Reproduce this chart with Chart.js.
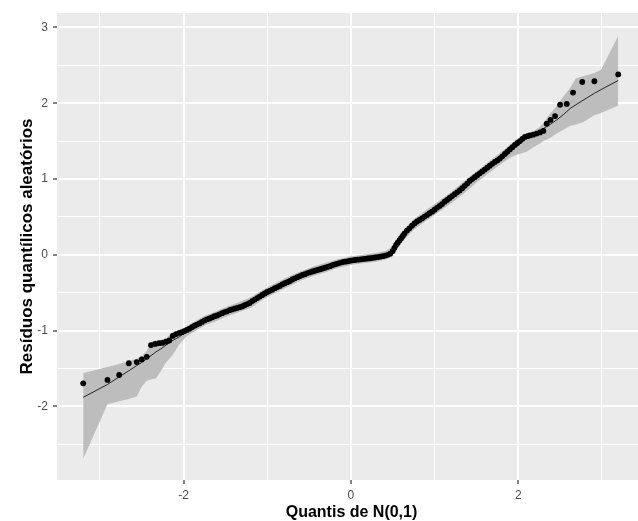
<!DOCTYPE html>
<html>
<head>
<meta charset="utf-8">
<script src="https://cdn.jsdelivr.net/npm/chart.js@4.4.0/dist/chart.umd.min.js"></script>
<style>
  html, body { margin: 0; background: #ffffff; overflow: hidden; }
  #wrap { width: 638px; height: 521px; overflow: hidden; }
</style>
</head>
<body>
<div id="wrap"><canvas id="qqChart" width="650" height="521"></canvas></div>
<script>
// theoretical N(0,1) quantiles and the randomized quantile residuals
const theoQuantiles = [
  -3.20, -2.91, -2.77, -2.655, -2.56, -2.50, -2.44, -2.39,
  -2.34, -2.29, -2.25, -2.21, -2.17, -2.13, -2.09, -2.05, -2.02, -1.99,
  -1.96, -1.93, -1.90, -1.87, -1.84, -1.81, -1.78, -1.75, -1.72, -1.69,
  -1.66, -1.63, -1.60, -1.57, -1.54, -1.51, -1.48, -1.45, -1.42, -1.39,
  -1.36, -1.33, -1.30, -1.27, -1.24, -1.21, -1.18, -1.15, -1.12, -1.09,
  -1.06, -1.03, -1.00, -0.97, -0.94, -0.91, -0.88, -0.85, -0.82, -0.79,
  -0.76, -0.73, -0.70, -0.67, -0.64, -0.61, -0.58, -0.55, -0.52, -0.49,
  -0.46, -0.43, -0.40, -0.37, -0.34, -0.31, -0.28, -0.25, -0.22, -0.19,
  -0.16, -0.13, -0.10, -0.07, -0.04, -0.01, 0.02, 0.05, 0.08, 0.11,
  0.14, 0.17, 0.20, 0.23, 0.26, 0.29, 0.32, 0.35, 0.38, 0.41,
  0.44, 0.47, 0.50, 0.52, 0.54, 0.56, 0.58, 0.60, 0.62, 0.64,
  0.67, 0.70, 0.73, 0.76, 0.79, 0.82, 0.85, 0.88, 0.91, 0.94,
  0.97, 1.00, 1.03, 1.06, 1.09, 1.12, 1.15, 1.18, 1.21, 1.24,
  1.27, 1.30, 1.33, 1.36, 1.39, 1.42, 1.45, 1.48, 1.51, 1.54,
  1.57, 1.60, 1.63, 1.66, 1.69, 1.72, 1.75, 1.78, 1.81, 1.84,
  1.87, 1.90, 1.93, 1.96, 1.99, 2.02, 2.05, 2.08, 2.11, 2.14,
  2.18, 2.22, 2.26, 2.30,
  2.34, 2.385, 2.44, 2.50, 2.58, 2.655, 2.765, 2.91, 3.195
];
const residuals = [
  -1.695, -1.65, -1.585, -1.43, -1.415, -1.38, -1.345, -1.19,
  -1.175, -1.165, -1.16, -1.145, -1.13, -1.07, -1.045, -1.03, -1.02, -1.005,
  -0.99, -0.975, -0.955, -0.935, -0.92, -0.905, -0.885, -0.865, -0.85, -0.84,
  -0.825, -0.81, -0.80, -0.785, -0.77, -0.755, -0.745, -0.73, -0.72, -0.71,
  -0.70, -0.69, -0.68, -0.665, -0.65, -0.635, -0.61, -0.59, -0.57, -0.55,
  -0.53, -0.51, -0.49, -0.475, -0.46, -0.44, -0.425, -0.41, -0.39, -0.375,
  -0.36, -0.345, -0.325, -0.31, -0.295, -0.28, -0.265, -0.255, -0.24, -0.23,
  -0.22, -0.21, -0.20, -0.19, -0.18, -0.17, -0.16, -0.15, -0.135, -0.125,
  -0.115, -0.105, -0.095, -0.09, -0.085, -0.078, -0.072, -0.068, -0.064, -0.06,
  -0.056, -0.052, -0.048, -0.045, -0.04, -0.035, -0.03, -0.024, -0.018, -0.01,
  0.0, 0.015, 0.05, 0.09, 0.13, 0.16, 0.19, 0.22, 0.25, 0.28,
  0.32, 0.35, 0.385, 0.415, 0.44, 0.46, 0.48, 0.505, 0.525, 0.55,
  0.57, 0.595, 0.62, 0.645, 0.67, 0.70, 0.725, 0.75, 0.775, 0.80,
  0.825, 0.85, 0.88, 0.91, 0.94, 0.975, 1.0, 1.025, 1.05, 1.075,
  1.10, 1.125, 1.15, 1.175, 1.20, 1.225, 1.245, 1.27, 1.30, 1.33,
  1.36, 1.39, 1.42, 1.45, 1.475, 1.50, 1.53, 1.555, 1.565, 1.575,
  1.585, 1.60, 1.615, 1.635,
  1.73, 1.78, 1.83, 1.98, 1.99, 2.14, 2.28, 2.29, 2.38
];

// simulated envelope: lower limit, median and upper limit
const envX = [
  -3.20, -2.91, -2.77, -2.655, -2.56, -2.50, -2.44, -2.39, -2.33, -2.27,
  -2.21, -2.13, -2.05, -1.97, -1.855, -1.74, -1.62, -1.50, -1.35, -1.20,
  -1.05, -0.90, -0.75, -0.60, -0.45, -0.30, -0.15, 0.00, 0.15, 0.30,
  0.42, 0.48, 0.54, 0.62, 0.75, 0.90, 1.05, 1.20, 1.35, 1.50,
  1.65, 1.80, 1.90, 1.98, 2.10, 2.18, 2.26, 2.30, 2.38, 2.46,
  2.54, 2.62, 2.69, 2.775, 2.91, 2.99, 3.195
];
const envLower = [
  -2.69, -1.97, -1.93, -1.90, -1.87, -1.74, -1.66, -1.645, -1.63, -1.53,
  -1.42, -1.32, -1.18, -1.08, -1.00, -0.93, -0.88, -0.82, -0.76, -0.70,
  -0.59, -0.50, -0.42, -0.34, -0.28, -0.23, -0.17, -0.135, -0.11, -0.09,
  -0.06, -0.03, 0.07, 0.18, 0.33, 0.45, 0.565, 0.68, 0.81, 0.95,
  1.08, 1.20, 1.28, 1.32, 1.36, 1.42, 1.47, 1.50, 1.54, 1.60,
  1.65, 1.70, 1.72, 1.75, 1.84, 1.87, 1.97
];
const envMedian = [
  -1.88, -1.71, -1.61, -1.53, -1.46, -1.42, -1.37, -1.33, -1.28, -1.24,
  -1.19, -1.13, -1.08, -1.02, -0.94, -0.87, -0.81, -0.752, -0.697, -0.627,
  -0.523, -0.435, -0.355, -0.275, -0.217, -0.167, -0.112, -0.076, -0.055, -0.033,
  -0.007, 0.025, 0.13, 0.25, 0.405, 0.518, 0.637, 0.767, 0.90, 1.04,
  1.167, 1.29, 1.39, 1.467, 1.56, 1.60, 1.64, 1.665, 1.72, 1.78,
  1.85, 1.93, 1.98, 2.04, 2.13, 2.18, 2.30
];
const envUpper = [
  -1.56, -1.48, -1.44, -1.40, -1.37, -1.33, -1.27, -1.15, -1.13, -1.12,
  -1.10, -1.02, -0.99, -0.95, -0.87, -0.80, -0.75, -0.69, -0.63, -0.56,
  -0.46, -0.37, -0.29, -0.215, -0.155, -0.105, -0.055, -0.02, 0.0, 0.025,
  0.055, 0.10, 0.20, 0.32, 0.47, 0.59, 0.71, 0.83, 0.97, 1.10,
  1.23, 1.36, 1.45, 1.52, 1.60, 1.63, 1.69, 1.74, 1.86, 1.96,
  2.09, 2.20, 2.33, 2.355, 2.40, 2.44, 2.89
];

// grid positions and labelled ticks
const xGrid = [-3, -2, -1, 0, 1, 2, 3];
const xLabels = [-2, 0, 2];
const yGrid = [-2.5, -2, -1.5, -1, -0.5, 0, 0.5, 1, 1.5, 2, 2.5, 3];
const yLabels = [-2, -1, 0, 1, 2, 3];

const pairs = (xs, ys) => xs.map((x, i) => ({x: x, y: ys[i]}));
const isLabel = (list, v) => list.some(l => Math.abs(l - v) < 1e-9);

// grey panel behind the grid
const panelBackground = {
  id: 'panelBackground',
  beforeDraw(chart) {
    const {ctx, chartArea: a} = chart;
    ctx.save();
    ctx.fillStyle = '#EBEBEB';
    ctx.fillRect(a.left, a.top, a.right - a.left, a.bottom - a.top);
    ctx.restore();
  }
};

function gridOpts(labels) {
  return {
    color: '#FFFFFF',
    lineWidth: c => isLabel(labels, c.tick.value) ? 2 : 1,
    tickColor: '#333333',
    tickWidth: c => isLabel(labels, c.tick.value) ? 1.2 : 0,
    tickLength: 4,
    drawTicks: true
  };
}

const ctx = document.getElementById('qqChart').getContext('2d');
const qqChart = new Chart(ctx, {
  type: 'scatter',
  data: {
    datasets: [
      {
        label: 'Resíduos',
        data: pairs(theoQuantiles, residuals),
        backgroundColor: '#000000',
        borderWidth: 0,
        pointRadius: 2.9,
        order: 0
      },
      {
        label: 'Mediana',
        data: pairs(envX, envMedian),
        showLine: true,
        borderColor: 'rgba(20,20,20,0.9)',
        borderWidth: 1,
        pointRadius: 0,
        order: 1
      },
      {
        label: 'Limite inferior',
        data: pairs(envX, envLower),
        showLine: true,
        borderWidth: 0,
        borderColor: 'rgba(0,0,0,0)',
        pointRadius: 0,
        order: 2
      },
      {
        label: 'Limite superior',
        data: pairs(envX, envUpper),
        showLine: true,
        borderWidth: 0,
        borderColor: 'rgba(0,0,0,0)',
        backgroundColor: '#BDBDBD',
        fill: {target: 2},
        pointRadius: 0,
        order: 2
      }
    ]
  },
  options: {
    responsive: false,
    animation: false,
    devicePixelRatio: 1,
    layout: {padding: {top: 13, right: 0, bottom: 0, left: 0}},
    plugins: {
      legend: {display: false},
      tooltip: {enabled: false}
    },
    scales: {
      x: {
        type: 'linear',
        min: -3.513,
        max: 3.527,
        border: {display: false},
        grid: gridOpts(xLabels),
        afterBuildTicks: axis => { axis.ticks = xGrid.map(v => ({value: v})); },
        afterFit: axis => { axis.height = 41; },
        ticks: {
          autoSkip: false,
          maxRotation: 0,
          padding: 4,
          color: '#4D4D4D',
          font: {family: 'Liberation Sans', size: 12},
          callback: v => isLabel(xLabels, v) ? String(v) : ''
        },
        title: {
          display: true,
          text: 'Quantis de N(0,1)',
          color: '#000000',
          font: {family: 'Liberation Sans', size: 16, weight: 'bold', lineHeight: 1},
          padding: {top: 0, bottom: 0}
        }
      },
      y: {
        type: 'linear',
        min: -2.97,
        max: 3.19,
        border: {display: false},
        grid: gridOpts(yLabels),
        afterBuildTicks: axis => { axis.ticks = yGrid.map(v => ({value: v})); },
        afterFit: axis => { axis.width = 57; },
        ticks: {
          autoSkip: false,
          padding: 5,
          color: '#4D4D4D',
          font: {family: 'Liberation Sans', size: 12},
          callback: v => isLabel(yLabels, v) ? String(v) : ''
        },
        title: {
          display: true,
          text: 'Resíduos quantílicos aleatórios',
          color: '#000000',
          font: {family: 'Liberation Sans', size: 17, weight: 'bold', lineHeight: 1},
          padding: {top: 19, bottom: 0}
        }
      }
    }
  },
  plugins: [panelBackground]
});
</script>
</body>
</html>
